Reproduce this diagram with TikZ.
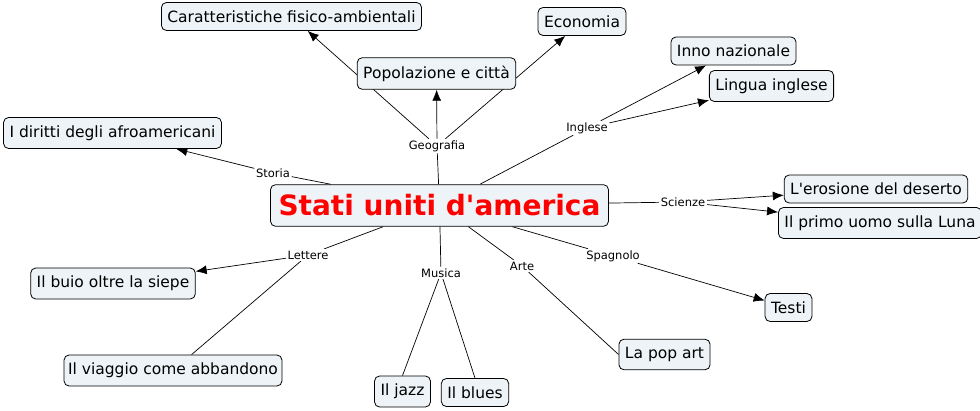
\documentclass[tikz,border=0pt]{standalone}
\usepackage{fontspec}
\setmainfont{DejaVu Sans}
\usetikzlibrary{arrows.meta,positioning,backgrounds}
\definecolor{boxfill}{RGB}{237,243,246}
\definecolor{titlered}{RGB}{255,0,0}

\begin{document}
\begin{tikzpicture}[x=1pt,y=-1pt,
      concept/.style={rectangle, rounded corners=5pt, draw=black, fill=boxfill, line width=0.8pt, inner xsep=6pt, inner ysep=8pt, font=\fontsize{15.5}{18}\selectfont},
      phrase/.style={fill=white, inner sep=1.5pt, font=\fontsize{11.5}{13}\selectfont},
      link/.style={line width=0.7pt},
      pfeil/.style={line width=0.7pt, -{Latex[length=11pt,width=9pt]}}]
\useasboundingbox (0,0) rectangle (980,411);

% linking phrases
\node[phrase] (geo) at (437,146) {Geografia};
\node[phrase] (ingl) at (587,128) {Inglese};
\node[phrase] (storia) at (273,173) {Storia};
\node[phrase] (sci) at (683,202) {Scienze};
\node[phrase] (lett) at (308,255) {Lettere};
\node[phrase] (mus) at (441,273) {Musica};
\node[phrase] (arte) at (522,266) {Arte};
\node[phrase] (spagn) at (613,256) {Spagnolo};

% central concept
\node[concept, inner xsep=8pt, inner ysep=10pt, font=\fontsize{28}{32}\selectfont\bfseries, text=titlered] (stati) at (439.5,205.5) {Stati uniti d\textquotesingle america};

% concepts
\node[concept] (carat) at (291.5,16.5) {Caratteristiche fisico-ambientali};
\node[concept] (econ) at (582,21.5) {Economia};
\node[concept] (pop) at (436.5,73.5) {Popolazione e città};
\node[concept] (inno) at (733.5,51) {Inno nazionale};
\node[concept] (lingua) at (771.5,86) {Lingua inglese};
\node[concept] (diritti) at (112.5,133) {I diritti degli afroamericani};
\node[concept] (eros) at (876,189) {L\textquotesingle erosione del deserto};
\node[concept] (luna) at (880,223) {Il primo uomo sulla Luna};
\node[concept] (buio) at (113,283.5) {Il buio oltre la siepe};
\node[concept, inner xsep=4pt] (viaggio) at (173,370.5) {Il viaggio come abbandono};
\node[concept] (jazz) at (402.5,391.5) {Il jazz};
\node[concept] (blues) at (475,392.5) {Il blues};
\node[concept] (popart) at (664.5,354.5) {La pop art};
\node[concept] (testi) at (788.5,307.5) {Testi};

\begin{pgfonlayer}{background}
\draw[link] (stati) edge (geo) edge (ingl) edge (storia) edge (sci) edge (lett) edge (mus) edge (arte) edge (spagn);
\draw[pfeil] (geo) edge (carat) edge (pop) edge (econ);
\draw[pfeil] (ingl) edge (inno) edge (lingua);
\draw[pfeil] (storia) edge (diritti);
\draw[pfeil] (sci) edge (eros) edge (luna);
\draw[pfeil] (lett) edge (buio);
\draw[link] (lett) edge (viaggio);
\draw[link] (mus) edge (jazz.north) edge (blues.north);
\draw[link] (arte) edge (popart.west);
\draw[pfeil] (spagn) edge (testi);
\end{pgfonlayer}

\end{tikzpicture}
\end{document}
